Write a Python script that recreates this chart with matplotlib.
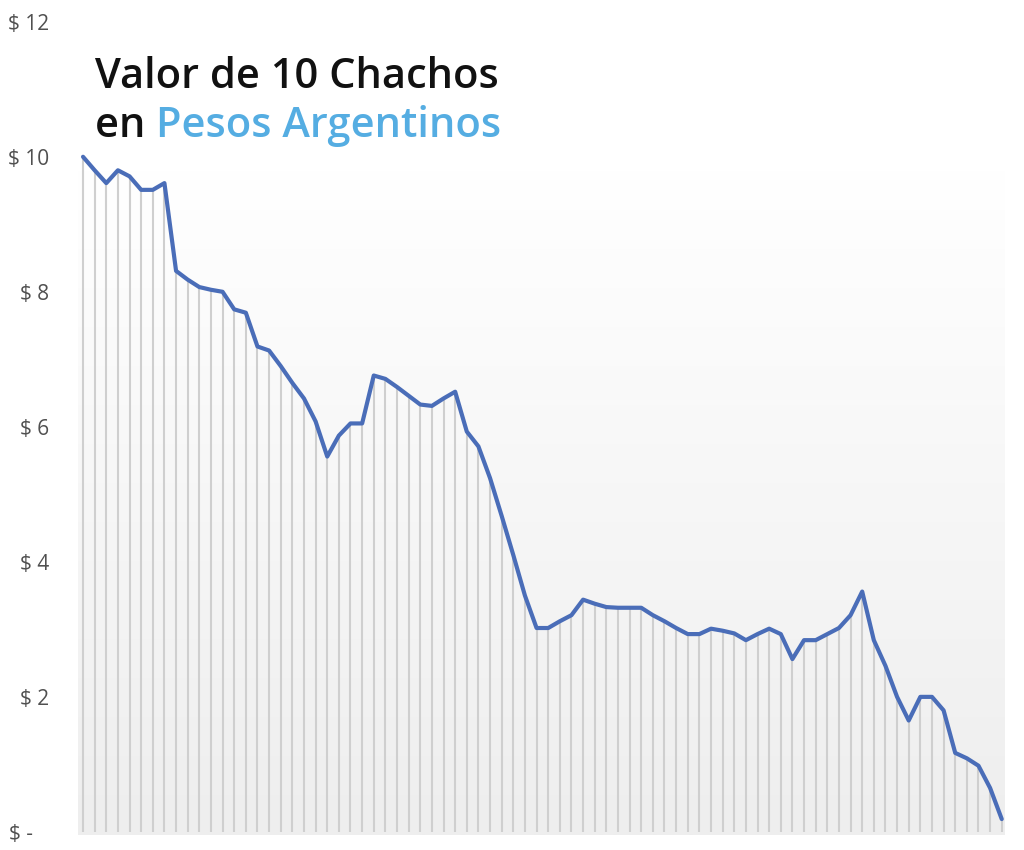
#! /usr/bin/env python

"""Valor de 10 Chachos en pesos argentinos."""
import numpy as np
import matplotlib.pyplot as plt
from matplotlib.colors import LinearSegmentedColormap

plt.rcParams['font.family'] = ['Open Sans', 'DejaVu Sans']

# valores (80 observaciones)
valores = [
    10.00, 9.80, 9.61, 9.80, 9.71, 9.51, 9.51, 9.61, 8.31, 8.18,
    8.07, 8.03, 8.00, 7.74, 7.69, 7.19, 7.13, 6.90, 6.65, 6.42,
    6.08, 5.56, 5.87, 6.05, 6.05, 6.76, 6.71, 6.59, 6.46, 6.33,
    6.31, 6.42, 6.52, 5.93, 5.71, 5.24, 4.68, 4.10, 3.50, 3.02,
    3.02, 3.12, 3.21, 3.44, 3.38, 3.33, 3.32, 3.32, 3.32, 3.21,
    3.12, 3.02, 2.93, 2.93, 3.01, 2.98, 2.94, 2.84, 2.93, 3.01,
    2.93, 2.56, 2.84, 2.84, 2.93, 3.02, 3.21, 3.56, 2.84, 2.46,
    2.00, 1.65, 2.00, 2.00, 1.80, 1.17, 1.09, 0.98, 0.65, 0.19,
]
y_ticks = [0, 2, 4, 6, 8, 10, 12]
y_labels = ['$ -   ', '$ 2', '$ 4', '$ 6', '$ 8', '$ 10', '$ 12']

x = np.arange(len(valores))

fig = plt.figure(figsize=(10.24, 8.5), dpi=100)
ax = fig.add_axes([70 / 1024, 10 / 850, 940 / 1024, 825 / 850])

# fondo con degradado del area del grafico
cmap = LinearSegmentedColormap.from_list('fondo', ['#ffffff', '#eeeeee'])
grad = np.linspace(0, 1, 256).reshape(-1, 1)
ax.imshow(grad, cmap=cmap, aspect='auto', origin='upper',
          extent=[-0.45, 79.25, -0.05, 9.8], zorder=0)

ax.vlines(x, 0, valores, color='#cfcfcf', linewidth=1.5, zorder=1)
ax.plot(x, valores, color='#4a6db8', linewidth=3.0, zorder=3,
        solid_joinstyle='round', solid_capstyle='round')

ax.set_xlim(-1.12, 79.71)
ax.set_ylim(-0.12, 12.1)
ax.set_yticks(y_ticks)
ax.set_yticklabels(y_labels, fontsize=15, color='#505050')
ax.tick_params(axis='y', length=0, pad=15)
ax.set_xticks([])
for s in ax.spines.values():
    s.set_visible(False)
ax.set_facecolor('none')

titulo = dict(fontsize=30, fontweight='semibold', va='baseline')
fig.text(95 / 1024, 1 - 88 / 850, 'Valor de 10 Chachos',
         color='#111111', **titulo)
t = fig.text(95 / 1024, 1 - 137 / 850, 'en ', color='#111111', **titulo)
fig.canvas.draw()
bb = t.get_window_extent()
fig.text(bb.x1 / 1024, 1 - 137 / 850, 'Pesos Argentinos',
         color='#55ade2', **titulo)

plt.savefig('out.png')
